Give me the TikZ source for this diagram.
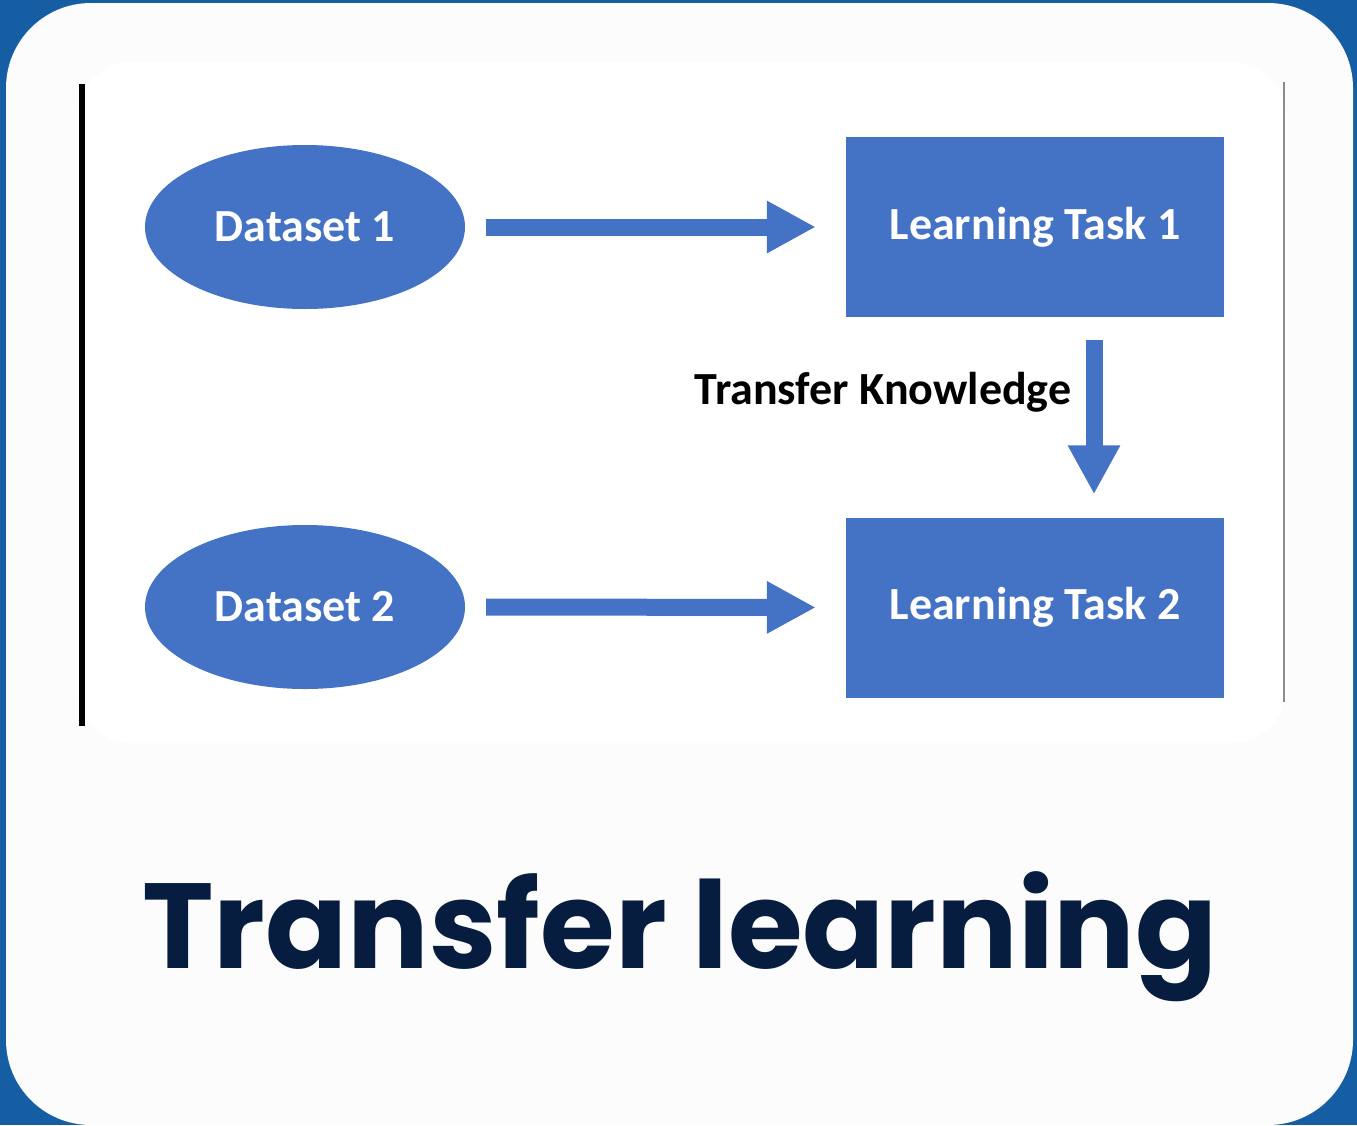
\documentclass[tikz,border=0pt]{standalone}
\usepackage{fontspec}
\usetikzlibrary{shapes.geometric,arrows.meta}
\newfontfamily\diagfont{Carlito}
\newfontfamily\titlefont{Poppins}
\definecolor{bgblue}{HTML}{155EA3}
\definecolor{cardwhite}{HTML}{FCFCFC}
\definecolor{nodeblue}{HTML}{4472C4}
\definecolor{titlenavy}{HTML}{061D40}
\tikzset{
  dataset/.style={ellipse, fill=nodeblue, minimum width=320pt, minimum height=164pt, inner sep=0pt,
    text=white, font=\diagfont\bfseries\fontsize{46}{50}\selectfont},
  task/.style={rectangle, fill=nodeblue, minimum width=378pt, minimum height=180pt, inner sep=0pt,
    text=white, font=\diagfont\bfseries\fontsize{46}{50}\selectfont},
  blockarrow/.style={draw=nodeblue, line width=17pt, line cap=butt,
    -{Triangle[length=49pt, width=49pt]}},
  lbl/.style={text=black, font=\diagfont\bfseries\fontsize{46}{50}\selectfont, inner sep=0pt},
  titlelbl/.style={text=titlenavy, font=\titlefont\bfseries\fontsize{121}{132}\selectfont, inner sep=0pt}
}
\begin{document}
\begin{tikzpicture}[x=1pt,y=-1pt]
\useasboundingbox (0,0) rectangle (1357,1125);
\fill[bgblue] (0,0) rectangle (1357,1125);
\fill[cardwhite, rounded corners=85pt] (6,3) rectangle (1353,1125);
\fill[white, rounded corners=55pt] (77,62) rectangle (1286,743);
\draw[black, line width=6pt] (82,84) -- (82,726);
\draw[black!45, line width=2pt] (1284,82) -- (1284,702);

\node[dataset] (d1) at (305,227) {Dataset 1};
\node[dataset] (d2) at (305,607) {Dataset 2};
\node[task] (t1) at (1035,227) {Learning Task 1};
\node[task] (t2) at (1035,607.5) {Learning Task 2};

\draw[blockarrow, shorten <=21pt, shorten >=30pt] (d1.east) -- (t1.west);
\draw[blockarrow, shorten <=21pt, shorten >=30pt] (d2.east) -- (t2.west);
\draw[blockarrow, shorten <=23pt, shorten >=23pt] ([xshift=59pt]t1.south) -- ([xshift=59pt]t2.north);

\node[lbl] (tk) at (883,392) {Transfer Knowledge};
\node[titlelbl, anchor=base] (title) at (680,968) {Transfer learning};
\end{tikzpicture}
\end{document}
